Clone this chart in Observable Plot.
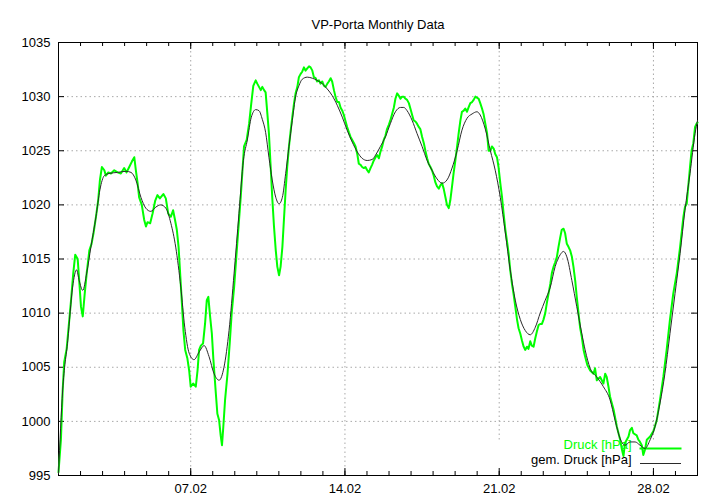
<!DOCTYPE html>
<html>
<head>
<meta charset="utf-8">
<script src="https://cdn.jsdelivr.net/npm/d3@7"></script>
<script src="https://cdn.jsdelivr.net/npm/@observablehq/plot@0.6"></script>
<style>
  html, body { margin: 0; padding: 0; background: #fff; }
  #chart svg { display: block; }
</style>
</head>
<body>
<div id="chart"></div>
<script>
// ---- data (days since 01.02, pressure in hPa) ----
const title = "VP-Porta Monthly Data";
const seriesNames = ["Druck [hPa]", "gem. Druck [hPa]"];

const druckDays = [
  0.00,0.11,0.19,0.26,0.37,0.46,0.57,0.67,0.76,0.87,0.94,1.02,1.10,1.19,1.28,1.40,1.50,1.59,1.70,1.80,
  1.88,1.97,2.08,2.15,2.26,2.38,2.53,2.68,2.83,2.98,3.09,3.21,3.33,3.44,3.51,3.59,3.66,3.78,3.89,3.97,
  4.04,4.16,4.27,4.39,4.49,4.60,4.72,4.76,4.87,4.98,5.10,5.20,5.28,5.37,5.45,5.52,5.60,5.67,5.75,5.85,
  5.93,6.00,6.11,6.23,6.31,6.38,6.46,6.56,6.65,6.73,6.80,6.88,6.96,7.03,7.14,7.21,7.29,7.36,7.42,7.48,
  7.56,7.67,7.77,7.86,7.97,8.07,8.16,8.27,8.34,8.42,8.54,8.65,8.75,8.84,8.95,9.02,9.10,9.18,9.25,9.33,
  9.40,9.48,9.55,9.63,9.70,9.78,9.86,9.93,10.01,10.08,10.16,10.23,10.31,10.38,10.46,10.54,10.61,10.69,10.76,10.84,
  10.91,10.99,11.06,11.14,11.21,11.29,11.37,11.44,11.52,11.59,11.67,11.74,11.82,11.89,11.97,12.05,12.12,12.20,12.27,12.35,
  12.42,12.50,12.57,12.65,12.73,12.80,12.88,12.95,13.03,13.10,13.18,13.25,13.33,13.41,13.48,13.56,13.63,13.71,13.78,13.86,
  13.93,14.01,14.08,14.16,14.23,14.31,14.39,14.46,14.54,14.61,14.69,14.76,14.84,14.91,14.99,15.06,15.14,15.22,15.29,15.37,
  15.44,15.52,15.59,15.67,15.75,15.82,15.90,15.97,16.05,16.12,16.20,16.27,16.35,16.42,16.50,16.58,16.65,16.73,16.80,16.88,
  16.95,17.03,17.10,17.18,17.26,17.33,17.41,17.48,17.56,17.63,17.71,17.78,17.86,17.93,18.01,18.09,18.16,18.24,18.31,18.39,
  18.46,18.54,18.61,18.69,18.77,18.84,18.92,18.99,19.07,19.14,19.22,19.29,19.37,19.45,19.52,19.60,19.67,19.75,19.82,19.90,
  19.97,20.05,20.13,20.20,20.28,20.35,20.43,20.50,20.58,20.65,20.73,20.81,20.88,20.96,21.03,21.11,21.18,21.26,21.33,21.41,
  21.48,21.56,21.64,21.71,21.79,21.86,21.94,22.01,22.09,22.16,22.24,22.32,22.39,22.47,22.54,22.62,22.69,22.77,22.84,22.92,
  22.99,23.07,23.15,23.22,23.30,23.37,23.45,23.52,23.60,23.67,23.75,23.83,23.90,24.00,24.13,24.28,24.35,24.43,24.58,24.73,
  24.81,24.88,24.96,25.03,25.19,25.34,25.49,25.56,25.64,25.71,25.79,25.87,25.94,26.02,26.09,26.24,26.32,26.39,26.47,26.54,
  26.62,26.70,26.85,27.00,27.15,27.30,27.45,27.60,27.75,27.90,28.06,28.21,28.36,28.43,28.51,28.58,28.66,28.73,28.81,28.89,
  28.96,29.00
];
const druckValues = [
  995.3,998.3,1002.9,1005.5,1006.7,1008.7,1011.2,1013.7,1015.4,1015.0,1013.0,1010.6,1009.7,1011.8,1013.7,1015.8,1016.4,1017.4,1018.9,1020.4,
  1022.3,1023.5,1023.2,1022.7,1023.0,1022.9,1023.2,1023.0,1022.9,1023.4,1023.0,1023.5,1024.0,1024.4,1023.2,1022.0,1020.7,1020.0,1018.6,1018.0,
  1018.4,1018.3,1019.2,1020.4,1020.9,1020.6,1020.9,1021.0,1020.6,1019.2,1018.9,1019.5,1018.7,1017.7,1016.1,1013.7,1010.9,1008.4,1006.6,1005.8,
  1004.7,1003.2,1003.5,1003.2,1004.7,1006.6,1007.0,1007.2,1009.0,1011.2,1011.5,1009.7,1008.1,1005.7,1002.6,1000.7,1000.1,998.7,997.8,999.5,
  1002.0,1004.4,1007.2,1010.0,1012.4,1015.2,1017.7,1020.7,1022.9,1025.4,1026.0,1027.5,1029.4,1031.0,1031.5,1031.2,1030.9,1030.6,1030.9,1030.6,
  1030.4,1028.4,1026.6,1023.5,1020.7,1018.0,1015.8,1014.3,1013.5,1014.3,1016.1,1018.6,1021.4,1023.5,1025.4,1026.9,1028.1,1029.4,1030.3,1030.9,
  1031.8,1032.1,1032.3,1032.7,1032.4,1032.6,1032.8,1032.7,1032.4,1031.8,1031.7,1031.4,1031.5,1031.2,1031.4,1031.0,1030.9,1031.2,1031.4,1031.7,
  1031.4,1030.6,1030.0,1029.5,1029.5,1029.0,1028.7,1028.3,1027.7,1027.2,1026.7,1026.3,1026.0,1025.7,1025.4,1024.7,1023.8,1023.7,1023.5,1023.4,
  1023.5,1023.2,1023.0,1023.4,1023.7,1024.1,1024.4,1024.6,1024.3,1024.9,1025.4,1026.0,1026.4,1027.0,1027.4,1027.8,1028.4,1029.0,1029.8,1030.3,
  1030.1,1029.8,1030.0,1030.0,1029.8,1029.7,1029.4,1028.9,1028.3,1027.8,1027.7,1027.5,1027.2,1027.0,1026.3,1025.7,1025.0,1024.3,1023.8,1023.5,
  1023.2,1022.7,1022.1,1021.7,1021.5,1021.8,1022.0,1021.5,1020.7,1020.0,1019.7,1020.4,1021.7,1022.9,1024.1,1025.4,1026.6,1027.8,1028.6,1028.7,
  1028.9,1028.6,1029.0,1029.4,1029.5,1029.7,1030.0,1029.9,1029.8,1029.4,1028.9,1028.4,1027.5,1026.6,1025.0,1025.0,1025.4,1025.2,1024.7,1024.4,
  1023.5,1022.0,1020.7,1019.2,1017.7,1016.7,1015.5,1014.0,1012.7,1011.8,1010.6,1009.4,1008.6,1008.1,1007.5,1006.9,1006.6,1006.9,1006.7,1007.4,
  1007.0,1006.9,1007.7,1008.3,1008.9,1009.0,1009.0,1009.4,1010.0,1010.9,1011.8,1012.7,1013.7,1014.3,1014.7,1015.2,1016.1,1017.0,1017.7,1017.8,
  1017.4,1016.4,1016.1,1015.8,1015.2,1014.3,1013.0,1011.5,1010.0,1008.7,1007.8,1006.6,1006.0,1005.2,1004.7,1004.4,1004.9,1003.8,1004.1,1003.5,
  1004.4,1004.1,1003.2,1002.3,1001.1,999.5,998.3,997.5,996.8,998.0,998.3,998.6,999.2,999.4,998.9,998.7,998.3,998.1,997.8,996.9,
  997.4,998.3,998.6,999.1,1000.1,1002.0,1004.1,1006.6,1009.4,1011.8,1013.7,1016.1,1018.9,1019.8,1020.1,1021.7,1023.5,1025.0,1025.7,1027.2,
  1027.5,1027.6
];

const gemDays = [
  0.00,0.19,0.42,0.64,0.82,0.94,1.10,1.28,1.47,1.70,1.88,2.08,2.30,2.68,3.06,3.29,3.51,3.74,3.96,4.19,
  4.42,4.64,4.87,5.10,5.32,5.55,5.73,5.93,6.15,6.38,6.61,6.83,7.06,7.29,7.51,7.74,7.97,8.19,8.39,8.57,
  8.75,8.95,9.10,9.25,9.40,9.55,9.70,9.86,10.01,10.16,10.31,10.46,10.61,10.76,10.91,11.06,11.29,11.52,11.74,11.97,
  12.20,12.42,12.65,12.88,13.10,13.33,13.56,13.78,14.01,14.24,14.39,14.61,14.84,15.06,15.29,15.52,15.67,15.82,16.05,16.27,
  16.50,16.73,16.95,17.18,17.41,17.63,17.86,18.09,18.31,18.54,18.77,18.99,19.14,19.37,19.60,19.82,20.05,20.28,20.50,20.73,
  20.96,21.18,21.41,21.64,21.86,22.09,22.32,22.54,22.77,22.92,23.07,23.30,23.52,23.75,23.90,24.13,24.43,24.73,25.03,25.26,
  25.49,25.71,25.94,26.17,26.39,26.62,26.85,27.07,27.30,27.52,27.75,27.98,28.21,28.43,28.66,28.89,29.00
];
const gemValues = [
  995.2,1002.9,1007.5,1012.4,1014.0,1013.0,1012.1,1013.7,1016.1,1018.9,1021.4,1022.7,1022.9,1023.0,1023.1,1023.0,1022.3,1020.7,1019.7,1019.4,
  1019.8,1020.0,1019.7,1018.3,1016.1,1012.4,1008.7,1006.3,1005.7,1006.4,1007.0,1006.0,1004.4,1003.8,1005.0,1008.4,1013.7,1019.2,1024.1,1026.0,
  1028.1,1028.8,1028.7,1027.9,1026.7,1024.4,1022.3,1020.7,1020.1,1020.7,1022.9,1025.4,1027.8,1030.0,1031.0,1031.6,1031.8,1031.7,1031.5,1031.2,
  1030.7,1030.1,1029.2,1028.1,1026.9,1025.8,1024.9,1024.3,1024.1,1024.2,1024.6,1025.4,1026.3,1027.5,1028.6,1029.0,1029.0,1028.7,1027.8,1026.6,
  1025.4,1024.1,1023.2,1022.4,1022.0,1022.3,1023.4,1025.0,1026.9,1028.0,1028.4,1028.6,1028.3,1027.0,1025.0,1023.2,1020.7,1017.4,1014.0,1011.2,
  1009.4,1008.4,1008.0,1008.7,1010.0,1011.2,1012.4,1014.3,1015.4,1015.7,1015.2,1013.0,1010.6,1008.1,1006.6,1004.9,1004.1,1003.2,1002.0,1000.1,
  998.4,997.8,998.1,998.1,997.8,997.5,998.3,999.5,1001.7,1004.4,1008.1,1011.8,1015.5,1019.5,1022.9,1026.6,1027.8
];

const yTicks = [995, 1000, 1005, 1010, 1015, 1020, 1025, 1030, 1035];
const xTickLabels = ["07.02", "14.02", "21.02", "28.02"];

// ---- build ----
const year = 2009;
const start = Date.UTC(year, 1, 1);
const toDate = d => new Date(start + d * 864e5);
const druck = druckDays.map((d, i) => ({t: toDate(d), v: druckValues[i]}));
const gem = gemDays.map((d, i) => ({t: toDate(d), v: gemValues[i]}));
const majorTicks = xTickLabels.map(s => {
  const [dd, mm] = s.split(".").map(Number);
  return new Date(Date.UTC(year, mm - 1, dd));
});
const xDomain = [toDate(0), toDate(29)];
const minorTicks = d3.utcDay.range(toDate(1), toDate(29));
const yGrid = yTicks.slice(1, -1);

const W = 720, H = 504, ML = 58, MR = 23, MT = 42, MB = 29;
const FW = W - ML - MR, FH = H - MT - MB;
const font = "'Liberation Sans', Arial, Helvetica, sans-serif";
const keyStart = majorTicks[2];
const keyTop = 998;

const gridColor = "#a8a8a8";
const green = "#00ff00";
const dark = "#2a2a2a";

const plot = Plot.plot({
  width: W, height: H,
  marginLeft: ML, marginRight: MR, marginTop: MT, marginBottom: MB,
  style: {fontFamily: font, fontSize: "13px", background: "#fff", color: "#000"},
  x: {type: "utc", domain: xDomain, axis: null},
  y: {domain: [995, 1035], axis: null},
  marks: [
    // grid
    Plot.ruleY(yGrid, {y: d => d, stroke: gridColor, strokeDasharray: "1.5,3", strokeWidth: 1}),
    Plot.ruleX(majorTicks, {x: d => d, y1: 1035, y2: d => d >= keyStart ? keyTop : 995,
      stroke: gridColor, strokeDasharray: "1.5,3", strokeWidth: 1}),
    // border + ticks
    Plot.frame({stroke: "#000", strokeWidth: 1}),
    Plot.tickY(yTicks, {y: d => d, insetRight: FW - 6, stroke: "#000"}),
    Plot.tickY(yTicks, {y: d => d, insetLeft: FW - 6, stroke: "#000"}),
    Plot.tickX(minorTicks, {x: d => d, insetTop: FH - 4, stroke: "#000"}),
    Plot.tickX(minorTicks, {x: d => d, insetBottom: FH - 4, stroke: "#000"}),
    Plot.tickX(majorTicks, {x: d => d, insetTop: FH - 7, stroke: "#000"}),
    Plot.tickX(majorTicks, {x: d => d, insetBottom: FH - 7, stroke: "#000"}),
    // tick labels
    Plot.text(yTicks, {y: d => d, text: d => String(d), frameAnchor: "left", dx: -8,
      textAnchor: "end", fill: "#000"}),
    Plot.text(majorTicks, {x: d => d, text: (d, i) => xTickLabels[i], frameAnchor: "bottom",
      dy: 17, fill: "#000"}),
    // title
    Plot.text([title], {text: d => d, frameAnchor: "top", dy: -23, fill: "#000"}),
    // key entry 1 + series 1
    Plot.text([seriesNames[0]], {text: d => d, frameAnchor: "bottom-right", dx: -66, dy: -27,
      textAnchor: "end", fill: green}),
    Plot.frame({anchor: "bottom", insetLeft: 582, insetRight: 17, insetBottom: 27, stroke: green, strokeWidth: 2}),
    Plot.line(druck, {x: "t", y: "v", stroke: green, strokeWidth: 2, strokeLinejoin: "round"}),
    // key entry 2 + series 2
    Plot.text([seriesNames[1]], {text: d => d, frameAnchor: "bottom-right", dx: -66, dy: -12,
      textAnchor: "end", fill: "#000"}),
    Plot.frame({anchor: "bottom", insetLeft: 582, insetRight: 17, insetBottom: 12, stroke: dark, strokeWidth: 1}),
    Plot.line(gem, {x: "t", y: "v", stroke: dark, strokeWidth: 1, curve: "monotone-x"})
  ]
});
document.getElementById("chart").appendChild(plot);
</script>
</body>
</html>
